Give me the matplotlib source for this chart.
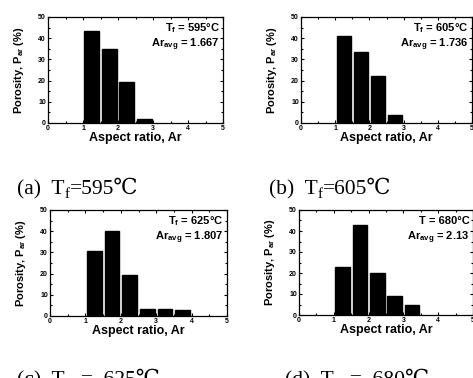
import matplotlib
matplotlib.use("Agg")
import matplotlib.pyplot as plt
from matplotlib.ticker import MultipleLocator

plt.rcParams['font.family'] = ['Liberation Sans', 'DejaVu Sans']
plt.rcParams['mathtext.fontset'] = 'custom'
plt.rcParams['mathtext.rm'] = 'Liberation Sans:bold'
plt.rcParams['mathtext.it'] = 'Liberation Sans:bold'
plt.rcParams['mathtext.bf'] = 'Liberation Sans:bold'

# Data
centers_a = [1.25, 1.75, 2.25, 2.75]
values_a = [43.5, 35, 19.5, 2]
centers_b = [1.25, 1.75, 2.25, 2.75]
values_b = [41, 33.5, 22, 4]
centers_c = [1.25, 1.75, 2.25, 2.75, 3.25, 3.75]
values_c = [30.5, 40, 19.5, 3.5, 3.5, 3]
centers_d = [1.25, 1.75, 2.25, 2.75, 3.25]
values_d = [23, 43, 20, 9, 5]
temps = ["595", "605", "625", "680"]
ar_avgs = ["1.667", "1.736", "1.807", "2.13"]
t_labels = ["T$_f$", "T$_f$", "T$_f$", "T"]
cap_prefix = ["(a)  T", "(b)  T", "(c)  T", "(d)  T"]
cap_suffix = ["=595\u2103", "=605\u2103", "  =  625\u2103", "  =  680\u2103"]

W, H = 473, 378
fig = plt.figure(figsize=(W / 100, H / 100), dpi=100)
renderer = fig.canvas.get_renderer()

def frac(l, t, r, b):
    return [l / W, 1 - b / H, (r - l) / W, (b - t) / H]

rects = [frac(48, 17, 223, 123), frac(301, 17, 472, 123),
         frac(50, 210, 227, 316), frac(299, 210, 473, 315)]
data = [(centers_a, values_a), (centers_b, values_b),
        (centers_c, values_c), (centers_d, values_d)]
cap_pos = [(17, 194), (269, 194), (17, 385), (285, 385)]
serif = ['Liberation Serif', 'DejaVu Serif']

for i, (rect, (cx, vals)) in enumerate(zip(rects, data)):
    ax = fig.add_axes(rect)
    ax.bar(cx, vals, width=0.42, color='black', edgecolor='black')
    ax.set_xlim(0, 5)
    ax.set_ylim(0, 50)
    ax.xaxis.set_major_locator(MultipleLocator(1))
    ax.yaxis.set_major_locator(MultipleLocator(10))
    ax.xaxis.set_minor_locator(MultipleLocator(0.5))
    ax.yaxis.set_minor_locator(MultipleLocator(5))
    ax.tick_params(which='both', direction='in', top=True, right=True,
                   labelsize=5, width=0.8, pad=1.5)
    ax.tick_params(which='major', length=2.5)
    ax.tick_params(which='minor', length=1.5)
    for lab in ax.get_xticklabels() + ax.get_yticklabels():
        lab.set_fontweight('bold')
    for s in ax.spines.values():
        s.set_linewidth(0.9)
    ax.set_xlabel("Aspect ratio, Ar", fontsize=9, fontweight='bold', labelpad=0)
    ax.set_ylabel("Porosity, P$_{ar}$ (%)", fontsize=8, fontweight='bold', labelpad=9)
    ax.text(0.98, 0.895, f"{t_labels[i]} = {temps[i]}\u00b0C", transform=ax.transAxes,
            ha='right', va='center', fontsize=8, fontweight='bold')
    ax.text(0.98, 0.735, f"Ar$_{{avg}}$ = {ar_avgs[i]}", transform=ax.transAxes,
            ha='right', va='center', fontsize=8, fontweight='bold')
    # caption built from pieces so the subscript and the degree-C sign both render
    x, y = cap_pos[i]
    t1 = fig.text(x / W, 1 - y / H, cap_prefix[i], ha='left', va='baseline',
                  fontsize=15.5, family=serif)
    bb = t1.get_window_extent(renderer)
    t2 = fig.text(bb.x1 / W, 1 - (y + 4) / H, "f", ha='left', va='baseline',
                  fontsize=11, family=serif)
    bb2 = t2.get_window_extent(renderer)
    fig.text(bb2.x1 / W, 1 - y / H, cap_suffix[i], ha='left', va='baseline',
             fontsize=15.5, family=serif)

fig.savefig("out.png", dpi=100)
